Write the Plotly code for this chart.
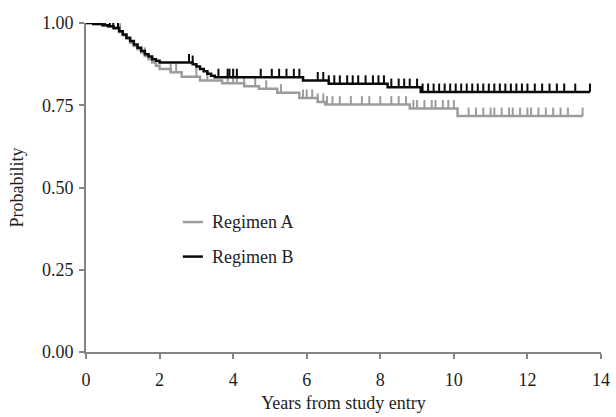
import numpy as np
import plotly.graph_objects as go

# Regimen A (gray) Kaplan-Meier steps
a_time = [0, 0.2, 0.45, 0.6, 0.75, 0.9, 1.0, 1.1, 1.2, 1.3, 1.4, 1.5, 1.6, 1.7, 1.8, 1.9,
          2.0, 2.3, 2.6, 3.1, 3.7, 4.3, 4.7, 5.2, 5.8, 6.3, 6.5, 8.8, 10.1]
a_surv = [1.0, 0.997, 0.993, 0.99, 0.983, 0.973, 0.963, 0.952, 0.94, 0.93, 0.92, 0.91, 0.9,
          0.89, 0.88, 0.87, 0.86, 0.85, 0.837, 0.825, 0.817, 0.808, 0.8, 0.788, 0.772, 0.76,
          0.752, 0.74, 0.717]
a_end = 13.5
a_cens = [0.93, 1.6, 2.3, 2.45, 3.0, 3.3, 3.85, 4.0, 4.1, 4.3, 4.6, 4.9, 5.3, 5.9, 6.0,
          6.15, 6.3, 6.45, 6.55, 6.7, 6.9, 7.2, 7.5, 7.7, 8.0, 8.3, 8.5, 8.7, 8.9, 9.0, 9.2,
          9.4, 9.5, 9.7, 9.85, 10.0, 10.4, 10.6, 10.8, 11.0, 11.1, 11.3, 11.5, 11.6, 11.8,
          12.0, 12.1, 12.3, 12.5, 12.7, 12.9, 13.1, 13.5]

# Regimen B (black) Kaplan-Meier steps
b_time = [0, 0.2, 0.45, 0.6, 0.75, 0.9, 1.0, 1.1, 1.2, 1.3, 1.4, 1.5, 1.6, 1.7, 1.8, 1.9,
          2.0, 2.9, 3.0, 3.1, 3.2, 3.3, 3.4, 3.5, 5.9, 6.6, 8.2, 9.1]
b_surv = [1.0, 0.997, 0.993, 0.99, 0.985, 0.975, 0.965, 0.955, 0.945, 0.935, 0.925, 0.915,
          0.905, 0.898, 0.89, 0.885, 0.88, 0.875, 0.868, 0.86, 0.853, 0.846, 0.84, 0.835,
          0.825, 0.815, 0.805, 0.79]
b_end = 13.7
b_cens = [0.3, 0.52, 0.65, 0.74, 0.87, 2.8, 2.9, 3.6, 3.85, 3.9, 4.0, 4.1, 4.75, 5.05,
          5.25, 5.45, 5.65, 5.8, 6.3, 6.45, 6.6, 6.75, 6.9, 7.1, 7.25, 7.4, 7.6, 7.8, 7.95,
          8.1, 8.3, 8.5, 8.65, 8.8, 9.0, 9.15, 9.3, 9.45, 9.6, 9.75, 9.9, 10.05, 10.2, 10.35,
          10.5, 10.65, 10.8, 10.95, 11.1, 11.25, 11.4, 11.55, 11.7, 11.85, 12.0, 12.2, 12.4,
          12.6, 12.8, 13.0, 13.3, 13.7]

series_names = ["Regimen A", "Regimen B"]
x_ticks = [0, 2, 4, 6, 8, 10, 12, 14]
y_ticks = [0, 0.25, 0.5, 0.75, 1.0]

GRAY = "#9c9c9c"
BLACK = "#0a0a0a"
FONT = "Liberation Serif"
TXT = "#1e1e1e"
FS = 18


def step_at(times, surv, t):
    idx = np.searchsorted(np.array(times), np.array(t), side="right") - 1
    return np.array(surv)[idx]


fig = go.Figure()
for name, times, surv, end, cens, col in [
    (series_names[0], a_time, a_surv, a_end, a_cens, GRAY),
    (series_names[1], b_time, b_surv, b_end, b_cens, BLACK),
]:
    fig.add_trace(go.Scatter(
        x=times + [end], y=surv + [surv[-1]], mode="lines", name=name,
        line=dict(color=col, width=2.5, shape="hv"), showlegend=False,
        cliponaxis=False, hoverinfo="skip",
    ))
    fig.add_trace(go.Scatter(
        x=cens, y=step_at(times, surv, cens), mode="markers", showlegend=False,
        marker=dict(size=1, color=col, opacity=0), hoverinfo="skip",
        error_y=dict(type="constant", value=0.026, valueminus=0, symmetric=False,
                     width=0, thickness=2, color=col),
        cliponaxis=False,
    ))

axis_common = dict(
    showgrid=False, zeroline=False, showline=True, linecolor="#858585", linewidth=2,
    ticks="outside", ticklen=5, tickwidth=2, tickcolor="#858585", automargin=False,
    tickfont=dict(family=FONT, size=FS, color=TXT),
)
fig.update_xaxes(range=[0, 14], tickvals=x_ticks, ticktext=[str(v) for v in x_ticks],
                 ticklabelstandoff=5,
                 title=dict(text="Years from study entry", standoff=8,
                            font=dict(family=FONT, size=FS, color=TXT)),
                 **axis_common)
fig.update_yaxes(range=[0, 1], tickvals=y_ticks, ticktext=[f"{v:.2f}" for v in y_ticks],
                 ticklabelstandoff=2,
                 title=dict(text="Probability", standoff=14,
                            font=dict(family=FONT, size=FS, color=TXT)),
                 **axis_common)

# manual legend (line sample + label)
legend_rows = [(series_names[0], GRAY, 0.395), (series_names[1], BLACK, 0.29)]
for name, col, yp in legend_rows:
    fig.add_shape(type="line", xref="paper", yref="paper", x0=0.188, x1=0.227,
                  y0=yp, y1=yp, line=dict(color=col, width=2.5))
    fig.add_annotation(xref="paper", yref="paper", x=0.24, y=yp, text=name,
                       showarrow=False, xanchor="left", yanchor="middle",
                       font=dict(family=FONT, size=FS, color=TXT))

fig.update_layout(
    width=616, height=417,
    margin=dict(l=86, r=15, t=23, b=65),
    paper_bgcolor="white", plot_bgcolor="white",
    showlegend=False,
)

fig.write_html("out.html", config={"displayModeBar": False},
               post_script="document.body.style.margin='0px';document.body.style.overflow='hidden';")
